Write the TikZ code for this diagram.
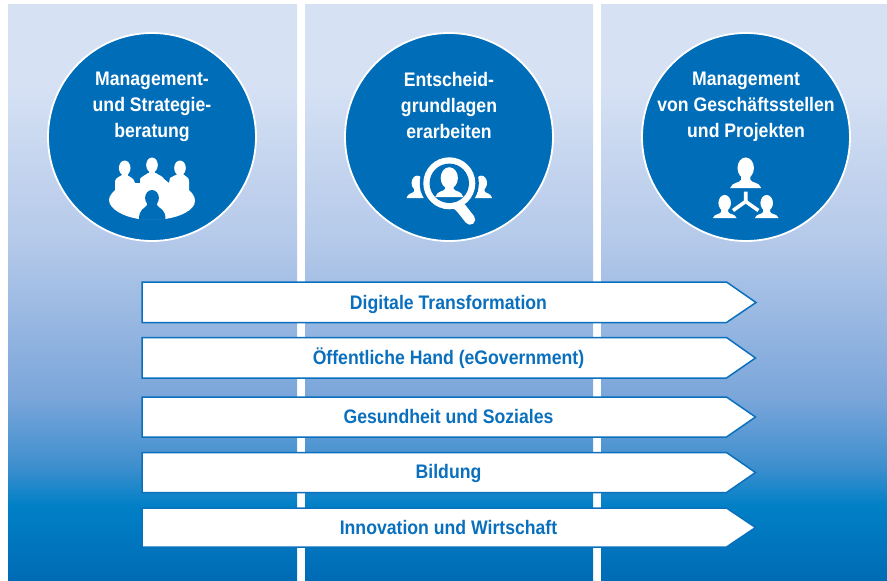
\documentclass[tikz,border=0pt]{standalone}
\usepackage{fontspec}
\setmainfont{Liberation Sans}[FakeStretch=0.9]
\definecolor{g0}{HTML}{006BB5}
\definecolor{g1}{HTML}{0080C6}
\definecolor{g2}{HTML}{3F8FCE}
\definecolor{g3}{HTML}{7BA6DA}
\definecolor{g4}{HTML}{B3C8E9}
\definecolor{g5}{HTML}{D6E1F4}
\definecolor{circ}{HTML}{006DB8}
\definecolor{bline}{HTML}{0A70BE}
\pgfdeclareverticalshading{colgrad}{100bp}{
 color(0bp)=(g0); color(25bp)=(g0); color(31.5bp)=(g1); color(35bp)=(g2);
 color(41bp)=(g3); color(54bp)=(g4); color(68bp)=(g5); color(75bp)=(g5); color(100bp)=(g5)}
\tikzset{
 x=1pt,y=-1pt,
 colband/.style={shading=colgrad,draw=none},
 disc/.style={circle,fill=circ,draw=white,line width=1.8pt,minimum size=208pt,inner sep=0pt},
 disctext/.style={text=white,align=center,font=\fontsize{19.6}{26}\selectfont\bfseries,inner sep=0pt},
 band/.style={fill=white,draw=bline,line width=1.5pt,line join=miter},
 bandtext/.style={text=bline,font=\fontsize{19.6}{22}\selectfont\bfseries,inner sep=0pt,anchor=base},
 wh/.style={fill=white,draw=none},
 bl/.style={fill=circ,draw=none}
}
% #2 x, #3 y of the head centre, #4 half shoulder width, #5 drop to the base
\newcommand{\personat}[5][wh]{%
 \begin{scope}[shift={(#2,#3)}]
  \path[#1] (0,0) ellipse [x radius=0.53*#4,y radius=0.68*#4];
  \path[#1] (-0.3*#4,0.45*#4) -- (-0.3*#4,0.76*#4)
    .. controls (-0.35*#4,0.98*#4) and (-0.88*#4,0.88*#4) .. (-#4,#5) -- (#4,#5)
    .. controls (0.88*#4,0.88*#4) and (0.35*#4,0.98*#4) .. (0.3*#4,0.76*#4) -- (0.3*#4,0.45*#4) -- cycle;
 \end{scope}}
\begin{document}
\begin{tikzpicture}
\useasboundingbox (0,0) rectangle (887,581);
\path[colband] (8,4) rectangle (297,581);
\path[colband] (305,4) rectangle (593,581);
\path[colband] (601,4) rectangle (887,581);

\node[disc] (d1) at (152,137) {};
\node[disc] (d2) at (449,137) {};
\node[disc] (d3) at (746,137) {};
\node[disctext] (t1) at (152,107) {Management-\\und Strategie-\\beratung};
\node[disctext] (t2) at (449,105) {Entscheid-\\grundlagen\\erarbeiten};
\node[disctext] (t3) at (746,107) {Management\\von Geschäftsstellen\\und Projekten};

% icon 1: people round a table
\path[wh] (109,200) .. controls (109,196) and (113,192) .. (115,190) -- (115,181)
  .. controls (116,177) and (120,177) .. (122,175) -- (127,175)
  .. controls (130,177) and (134,178) .. (135,183) -- (140,183) -- (140,179)
  .. controls (142,176) and (146,175) .. (148,173) -- (156,173)
  .. controls (158,175) and (163,176) .. (164,179) -- (169,183) -- (170,178)
  .. controls (172,176) and (175,176) .. (178,174) -- (183,174)
  .. controls (186,177) and (189,177) .. (189,181) -- (189,190)
  .. controls (192,193) and (195,196) .. (195,201)
  .. controls (195,210) and (180,217) .. (165,219) -- (139,219)
  .. controls (124,217) and (109,209) .. (109,200) -- cycle;
\path[wh] (124.7,168) ellipse [x radius=5.8,y radius=7.5];
\path[wh] (152,165) ellipse [x radius=5.8,y radius=7.5];
\path[wh] (180,168) ellipse [x radius=5.8,y radius=7.5];
\path[wh] (121.5,172) rectangle (128,178);
\path[wh] (148.8,169) rectangle (155.2,175);
\path[wh] (176.8,172) rectangle (183.2,178);
\path[bl] (152,198) ellipse [x radius=6.9,y radius=8];
\path[bl] (147,202) -- (147,205) .. controls (145,209) and (139,208) .. (139,219.5) -- (165.5,219.5)
  .. controls (165.5,208) and (159,209) .. (157,205) -- (157,202) -- cycle;

% icon 2: magnifier with people
\personat{417.3}{183}{10.8}{15}
\personat{481.3}{183}{10.8}{15}
\path[bl] (449.3,183.3) circle [radius=29.5];
\draw[white,line width=6pt] (453,204) -- (461,211);
\draw[white,line width=10.5pt,line cap=round] (461,208) -- (470,219.5);
\path[wh] (449.3,183.3) circle [radius=26];
\path[bl] (449.3,183.3) circle [radius=19.7];
\begin{scope}
\clip (449.3,183.3) circle [radius=19.7];
\personat{449.3}{178}{14}{19}
\path[wh] (449.3,178) ellipse [x radius=8.6,y radius=10.8];
\end{scope}

% icon 3: organisation
\personat{745.7}{168}{15.5}{20}
\personat{724.7}{203}{11.8}{15}
\personat{766.7}{203}{11.8}{15}
\draw[white,line width=3.6pt] (745.7,191.5) -- (745.7,201.5) -- (733,210.5);
\draw[white,line width=3.6pt] (745.7,201.5) -- (758.4,210.5);

% banners
\path[band] (142,282) -- (726.5,282) -- (756,302.5) -- (726.5,322.5) -- (142,322.5) -- cycle;
\path[band] (142,337.5) -- (726.5,337.5) -- (755.5,358) -- (726.5,378) -- (142,378) -- cycle;
\path[band] (142,397) -- (726.5,397) -- (755.5,417) -- (726.5,437) -- (142,437) -- cycle;
\path[band] (142,452.5) -- (726.5,452.5) -- (755.5,472.5) -- (726.5,492.5) -- (142,492.5) -- cycle;
\path[band] (142,508) -- (726.5,508) -- (755.5,527.5) -- (726.5,547) -- (142,547) -- cycle;
\node[bandtext] (b1) at (448.5,309.5) {Digitale Transformation};
\node[bandtext] (b2) at (448.5,364.5) {Öffentliche Hand (eGovernment)};
\node[bandtext] (b3) at (448.5,423.5) {Gesundheit und Soziales};
\node[bandtext] (b4) at (448.5,478.5) {Bildung};
\node[bandtext] (b5) at (448.5,534.5) {Innovation und Wirtschaft};
\end{tikzpicture}
\end{document}
